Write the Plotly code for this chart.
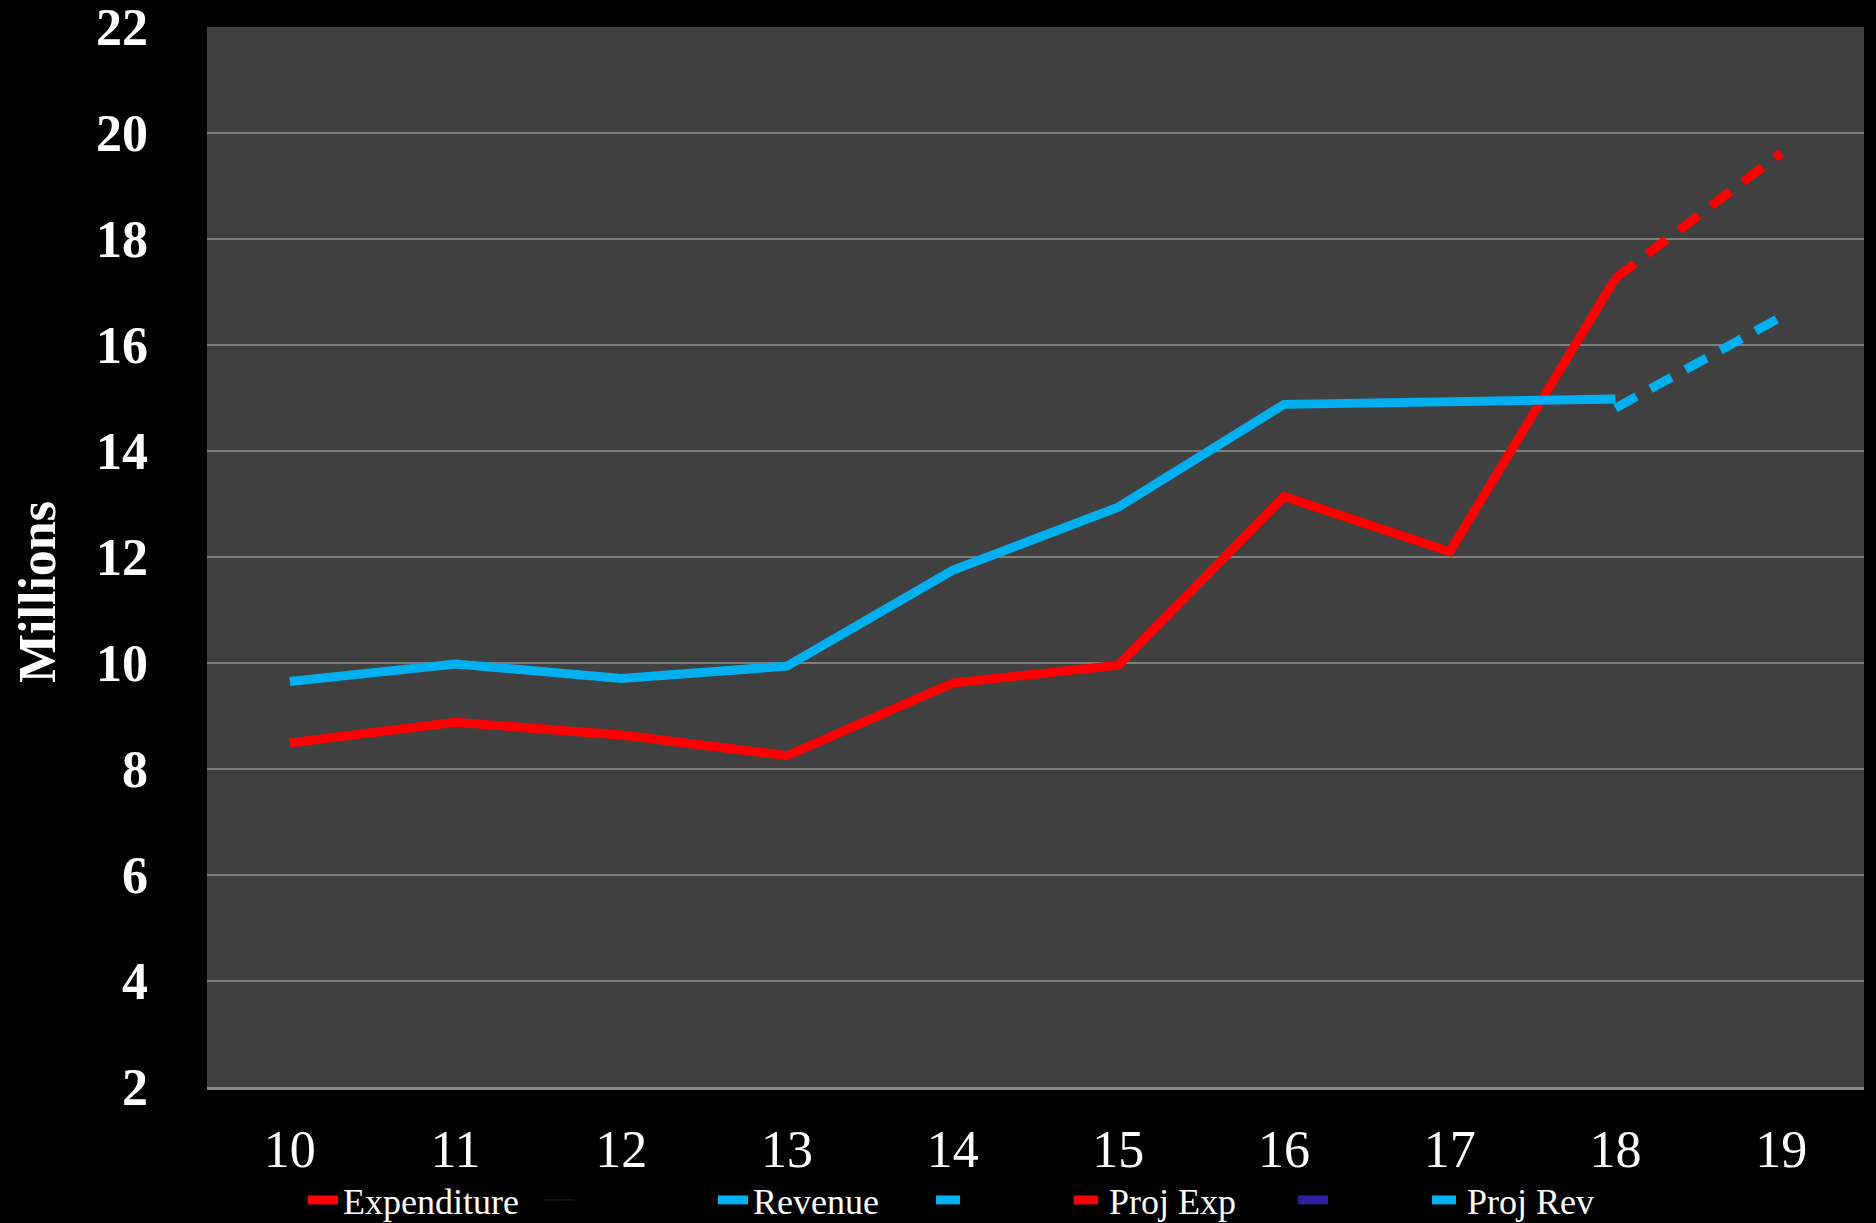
import plotly.graph_objects as go

years = ["10", "11", "12", "13", "14", "15", "16", "17", "18", "19"]
expenditure = [8.49, 8.88, 8.64, 8.25, 9.62, 9.96, 13.14, 12.10, 17.26, None]
revenue = [9.65, 9.98, 9.71, 9.94, 11.75, 12.94, 14.88, 14.93, 14.98, None]
proj_exp = [None, None, None, None, None, None, None, None, 17.26, 19.62]
proj_rev = [None, None, None, None, None, None, None, None, 14.81, 16.53]
blank = [None]
y_ticks = [2, 4, 6, 8, 10, 12, 14, 16, 18, 20, 22]

RED = "#FF0000"
BLUE = "#00B0F0"
DARKBLUE = "#2A1F9E"
FONT = "Liberation Serif, Times New Roman, serif"
DASH = "24px,16px"
LW = 9

# legend item left edges (pixels) for each entry
legend_px = [303, 539, 713, 931, 1069, 1293, 1427]
PL, PW, PB, PH = 207, 1657, 1087, 1060

fig = go.Figure()
fig.add_trace(go.Scatter(x=years, y=expenditure, name="Expenditure", mode="lines",
                         line=dict(color=RED, width=LW), legend="legend"))
fig.add_trace(go.Scatter(x=years[:1], y=blank, name="", mode="lines",
                         line=dict(color="#0d2a2a", width=1), legend="legend2"))
fig.add_trace(go.Scatter(x=years, y=revenue, name="Revenue", mode="lines",
                         line=dict(color=BLUE, width=LW), legend="legend3"))
fig.add_trace(go.Scatter(x=years[:1], y=blank, name="", mode="lines",
                         line=dict(color=BLUE, width=LW, dash=DASH), legend="legend4"))
fig.add_trace(go.Scatter(x=years, y=proj_exp, name="Proj Exp", mode="lines",
                         line=dict(color=RED, width=LW, dash=DASH), legend="legend5"))
fig.add_trace(go.Scatter(x=years[:1], y=blank, name="", mode="lines",
                         line=dict(color=DARKBLUE, width=LW), legend="legend6"))
fig.add_trace(go.Scatter(x=years, y=proj_rev, name="Proj Rev", mode="lines",
                         line=dict(color=BLUE, width=LW, dash=DASH), legend="legend7"))

legends = {}
for i, px in enumerate(legend_px):
    key = "legend" if i == 0 else f"legend{i + 1}"
    legends[key] = dict(orientation="h", x=(px - PL) / PW, xanchor="left",
                        y=(PB - 1200) / PH, yanchor="middle",
                        font=dict(family=FONT, size=36, color="#FFFFFF"),
                        bgcolor="rgba(0,0,0,0)", borderwidth=0)

fig.update_layout(
    width=1876, height=1223,
    paper_bgcolor="#000000", plot_bgcolor="#404040",
    margin=dict(l=207, r=12, t=27, b=136, autoexpand=False),
    font=dict(family=FONT, color="#FFFFFF"),
    showlegend=True,
    xaxis=dict(type="category", range=[-0.5, 9.5], showgrid=False,
               showline=True, linecolor="#8a8a8a", linewidth=3, automargin=False,
               ticks="", tickfont=dict(family=FONT, size=52, color="#FFFFFF"),
               ticklabelstandoff=15, zeroline=False, fixedrange=True),
    yaxis=dict(range=[2, 22], tickvals=y_ticks, showgrid=True, automargin=False,
               gridcolor="#7f7f7f", gridwidth=2, zeroline=False, showline=False,
               ticks="", tickfont=dict(family=FONT, size=52, color="#FFFFFF", weight="bold"),
               ticklabelstandoff=58, ticklabeloverflow="allow", fixedrange=True),
    annotations=[dict(text="Millions", xref="paper", yref="paper",
                      x=(38 - PL) / PW, y=(PB - 592) / PH,
                      xanchor="center", yanchor="middle", textangle=-90,
                      showarrow=False,
                      font=dict(family=FONT, size=52, color="#FFFFFF", weight="bold"))],
    **legends,
)

fig.write_html("out.html", config={"displayModeBar": False},
               post_script="document.body.style.margin='0';document.body.style.overflow='hidden';")
